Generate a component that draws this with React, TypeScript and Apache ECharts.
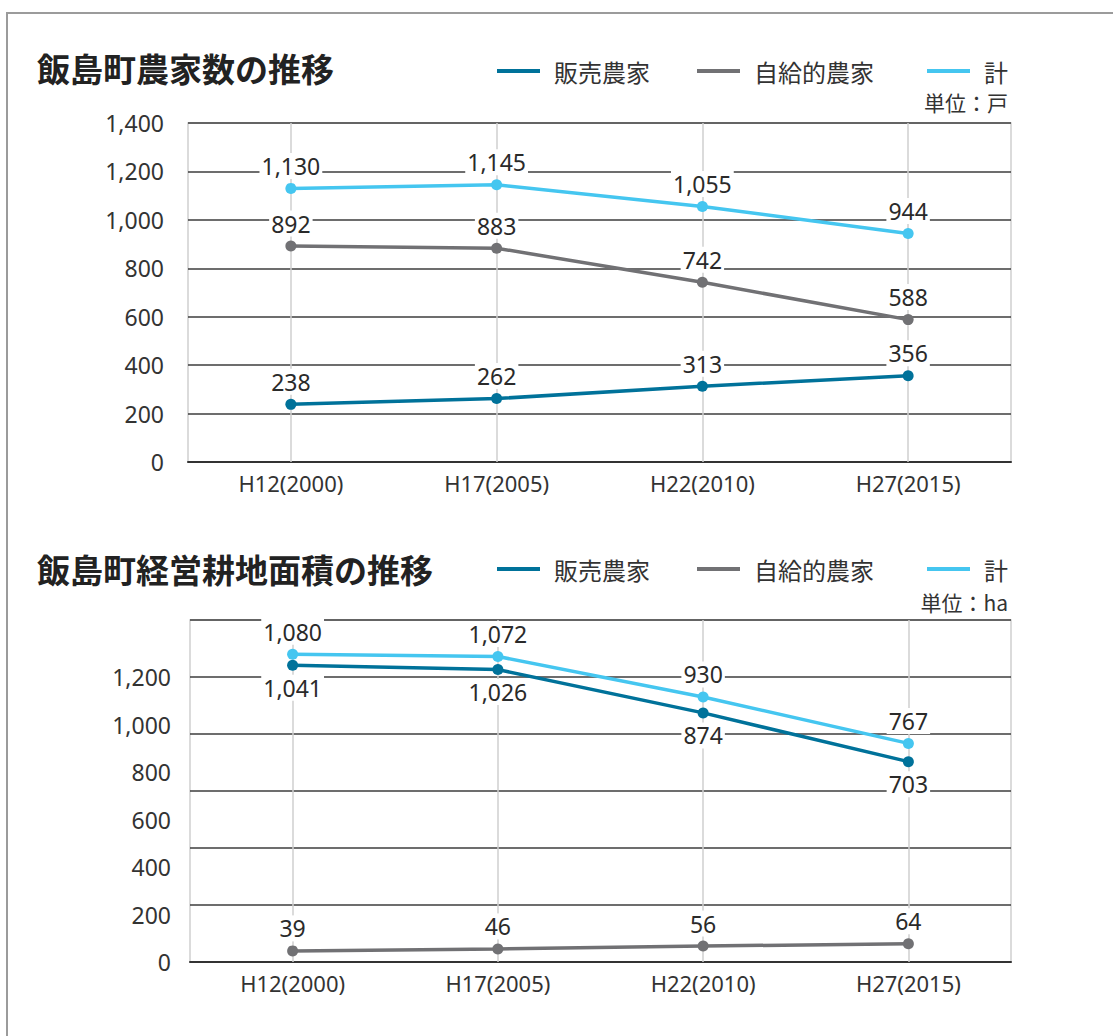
import React, { useEffect, useRef } from "react";
import * as echarts from "echarts";

const categories = ["H12(2000)", "H17(2005)", "H22(2010)", "H27(2015)"];
const seriesNames = ["販売農家", "自給的農家", "計"];
const seriesColors = ["#00729A", "#717174", "#45C6F0"];

// 農家数 (戸)
const farmsSales = [238, 262, 313, 356];
const farmsSelf = [892, 883, 742, 588];
const farmsTotal = [1130, 1145, 1055, 944];

// 経営耕地面積 (ha)
const areaSales = [1041, 1026, 874, 703];
const areaSelf = [39, 46, 56, 64];
const areaTotal = [1080, 1072, 930, 767];

const title1 = "飯島町農家数の推移";
const title2 = "飯島町経営耕地面積の推移";
const unit1 = "単位：戸";
const unit2 = "単位：ha";

const NUM_FONT = "'Noto Sans', 'Noto Sans CJK JP', sans-serif";
const CJK_FONT = "'Noto Sans CJK JP', 'Noto Sans', sans-serif";

const fmt = (v: number) => Number(v).toLocaleString("en-US");

function makeSeries(
  name: string,
  data: number[],
  color: string,
  axisIdx: number,
  yIdx: number,
  pos: string
) {
  return {
    type: "line",
    name,
    xAxisIndex: axisIdx,
    yAxisIndex: yIdx,
    data,
    color,
    symbol: "circle",
    symbolSize: 11,
    z: 3,
    lineStyle: { width: 3.5, color },
    itemStyle: { color },
    label: {
      show: true,
      position: pos,
      distance: 4,
      formatter: (p: any) => fmt(p.value),
      fontSize: 23,
      lineHeight: 26,
      color: "#2a2a2a",
      fontFamily: NUM_FONT,
      backgroundColor: "#fff",
      padding: [0, 2],
    },
  };
}

function vLines(axisIdx: number, yIdx: number) {
  return {
    type: "line",
    name: "_v" + axisIdx,
    xAxisIndex: axisIdx,
    yAxisIndex: yIdx,
    data: [],
    z: 1,
    silent: true,
    markLine: {
      z: 1,
      silent: true,
      symbol: "none",
      animation: false,
      label: { show: false },
      lineStyle: { color: "#cfcfcf", width: 1.5, type: "solid" },
      data: categories.map((c) => ({ xAxis: c })),
    },
  };
}

const legendLefts = [497, 697, 927];

function legends(top: number) {
  return seriesNames.map((n, i) => ({
    data: [n],
    left: legendLefts[i],
    top,
    padding: 0,
    icon: "rect",
    itemWidth: 43,
    itemHeight: 4,
    itemGap: 0,
    textStyle: {
      fontSize: 24,
      color: "#333",
      fontFamily: CJK_FONT,
      padding: [0, 0, 0, 9],
    },
  }));
}

function xAxis(gridIndex: number) {
  return {
    gridIndex,
    type: "category",
    data: categories,
    boundaryGap: true,
    axisLine: { lineStyle: { color: "#333", width: 2 } },
    axisTick: { alignWithLabel: true, length: 6, lineStyle: { color: "#333", width: 1.5 } },
    axisLabel: { fontSize: 22, color: "#333", margin: 10, fontFamily: NUM_FONT },
    splitLine: { show: false },
  };
}

export default function App() {
  const ref = useRef<HTMLDivElement>(null);

  useEffect(() => {
    document.body.style.margin = "0";
    const chart = echarts.init(ref.current!, null, { renderer: "svg" });
    const splitLine = { show: true, lineStyle: { color: "#3c3c3c", width: 1.5 } };
    const option: any = {
      animation: false,
      backgroundColor: "#fff",
      textStyle: { fontFamily: NUM_FONT },
      title: [
        {
          text: title1,
          left: 37,
          top: 51,
          padding: 0,
          textStyle: { fontSize: 33, fontWeight: "bold", color: "#222", fontFamily: CJK_FONT },
        },
        {
          text: unit1,
          right: 105,
          top: 91,
          padding: 0,
          textStyle: { fontSize: 21, fontWeight: "normal", color: "#333", fontFamily: CJK_FONT },
        },
        {
          text: title2,
          left: 37,
          top: 552,
          padding: 0,
          textStyle: { fontSize: 33, fontWeight: "bold", color: "#222", fontFamily: CJK_FONT },
        },
        {
          text: unit2,
          right: 105,
          top: 591,
          padding: 0,
          textStyle: { fontSize: 21, fontWeight: "normal", color: "#333", fontFamily: CJK_FONT },
        },
      ],
      legend: [...legends(59), ...legends(557)],
      graphic: [
        {
          type: "rect",
          silent: true,
          z: -1,
          shape: { x: 7, y: 13, width: 1130, height: 1060 },
          style: { fill: "none", stroke: "#9b9b9b", lineWidth: 2 },
        },
      ],
      grid: [
        {
          left: 188,
          right: 102,
          top: 123,
          height: 339,
          show: true,
          borderColor: "#cfcfcf",
          borderWidth: 1.5,
          backgroundColor: "transparent",
          outerBoundsMode: "none",
        },
        {
          left: 190,
          right: 102,
          top: 620,
          height: 342,
          show: true,
          borderColor: "#cfcfcf",
          borderWidth: 1.5,
          backgroundColor: "transparent",
          outerBoundsMode: "none",
        },
      ],
      xAxis: [xAxis(0), xAxis(1)],
      yAxis: [
        {
          gridIndex: 0,
          type: "value",
          min: 0,
          max: 1400,
          interval: 200,
          axisLabel: { fontSize: 23, color: "#333", margin: 24, formatter: fmt, fontFamily: NUM_FONT },
          axisLine: { show: false },
          axisTick: { show: false },
          splitLine,
        },
        {
          gridIndex: 1,
          type: "value",
          min: 0,
          max: 1200,
          interval: 200,
          axisLabel: { show: false },
          axisLine: { show: false },
          axisTick: { show: false },
          splitLine,
        },
        {
          gridIndex: 1,
          type: "value",
          position: "left",
          min: 0,
          max: 1440,
          interval: 200,
          axisLabel: {
            fontSize: 23,
            color: "#333",
            margin: 19,
            fontFamily: NUM_FONT,
            formatter: (v: number) => (v > 1200 ? "" : fmt(v)),
          },
          axisLine: { show: false },
          axisTick: { show: false },
          splitLine: { show: false },
        },
      ],
      series: [
        vLines(0, 0),
        vLines(1, 1),
        makeSeries(seriesNames[0], farmsSales, seriesColors[0], 0, 0, "top"),
        makeSeries(seriesNames[1], farmsSelf, seriesColors[1], 0, 0, "top"),
        makeSeries(seriesNames[2], farmsTotal, seriesColors[2], 0, 0, "top"),
        makeSeries(seriesNames[0], areaSales, seriesColors[0], 1, 1, "bottom"),
        makeSeries(seriesNames[1], areaSelf, seriesColors[1], 1, 1, "top"),
        makeSeries(seriesNames[2], areaTotal, seriesColors[2], 1, 1, "top"),
      ],
    };
    chart.setOption(option);
    return () => chart.dispose();
  }, []);

  return (
    <div
      ref={ref}
      style={{ position: "fixed", left: 0, top: 0, width: 1113, height: 1036, background: "#fff" }}
    />
  );
}
